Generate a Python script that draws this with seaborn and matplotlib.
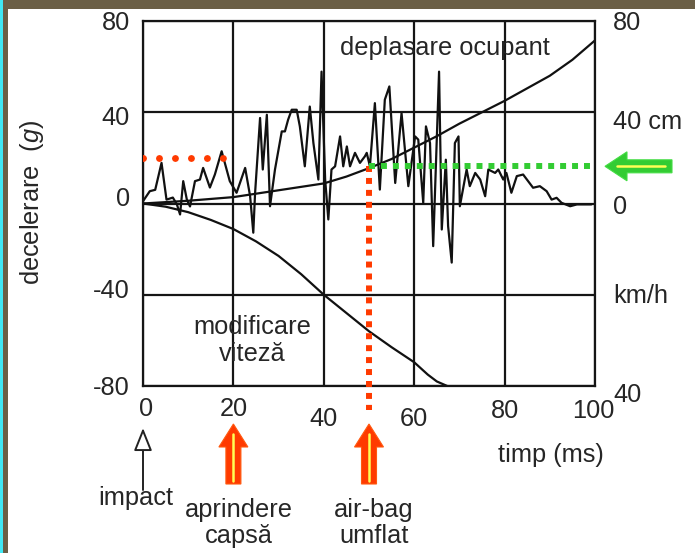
import numpy as np
import pandas as pd
import matplotlib
matplotlib.use("Agg")
import matplotlib.pyplot as plt
import seaborn as sns
from matplotlib.patches import Rectangle, FancyArrow
from matplotlib.transforms import IdentityTransform

# ---------------- data ----------------
# deceleration signal (g) vs time (ms)
t_sig = [0, 1.5, 2.7, 4.1, 5.2, 6.6, 7.5, 8.2, 8.9, 9.7, 10.4, 11.5, 12.6, 13.3, 14.8,
         15.9, 17.4, 19.2, 20.7, 22.6, 23.7, 24.4, 24.8, 25.9, 26.5, 27.4, 28.1, 29.2,
         30.7, 31.4, 32.1, 32.9, 34.0, 34.7, 35.8, 36.9, 37.7, 38.8, 39.5, 40.3, 41.0,
         41.7, 42.5, 43.6, 44.3, 45.1, 45.8, 46.9, 48.0, 49.1, 49.5, 50.2, 51.3, 52.4,
         53.5, 54.5, 55.8, 57.2, 58.7, 60.2, 60.9, 62.0, 62.6, 63.5, 64.2, 65.5, 66.1,
         67.0, 67.5, 68.3, 69.0, 69.8, 70.1, 71.6, 72.3, 73.5, 74.6, 75.7, 76.4, 77.9,
         78.6, 79.7, 80.4, 81.5, 82.7, 84.1, 85.2, 86.3, 87.8, 89.3, 90.4, 91.5, 92.6,
         94.5, 96.0, 99.2]
g_sig = [1, 5.4, 6, 17.8, 1.7, 2.6, -0.4, -4.8, 9.8, 1.7, -1.3, 9.8, 10.5, 15.6, 7,
         12.7, 22.9, 9.8, 4.7, 15.6, 3.2, -12.8, 4.7, 37.5, 14.9, 38.9, -1.2, 14.9,
         31.6, 31.6, 36.7, 41.1, 41.1, 33.8, 16.3, 42.5, 26.5, 10.5, 57.8, 10.5, -7,
         14.9, 16.3, 29.4, 16.3, 25, 16.3, 22.2, 17.8, 20.7, 22.2, 16.3, 44, 6.1,
         45.5, 51.3, 9, 39.6, 7.6, 29.4, 28, 0.3, 33.8, 26.5, -18.7, 57.8, -11.4,
         19.2, -9.9, -25.9, 26.5, 29.4, -1.2, 14.9, 7.6, 13.4, 10.5, 3.2, 14.9, 13.4,
         14.9, 10.5, 13.4, 4.7, 12, 12.7, 9.8, 6.9, 7.6, 5.4, 1.7, 2.5, 0.3,
         -1.2, -0.4, -0.4]

# occupant displacement (cm) -- right axis upper half
t_disp = [0, 10, 20, 30, 40, 45, 50, 55, 60, 65, 70, 75, 80, 85, 90, 95, 100]
disp_cm = [0, 1.2, 2.8, 5.8, 8.8, 11.8, 15.5, 19.5, 24.5, 29.5, 35, 40, 45, 50.5, 56, 63, 71.5]

# velocity change (km/h) -- right axis lower half (0 .. 40 km/h)
t_vel = [0, 5, 10, 15, 20, 25, 30, 35, 40, 45, 50, 55, 60, 63, 65, 67.3]
vel_kmh = [0, 0.7, 1.9, 3.6, 5.6, 8.3, 11.5, 15.5, 20, 24, 28, 31.5, 34.8, 37.5, 39, 40]

x_ticks = [0, 20, 40, 60, 80, 100]
x_labels = ["0", "20", "40", "60", "80", "100"]
y_ticks = [80, 40, 0, -40, -80]
y_labels = ["80", "40", "0", "-40", "-80"]
right_labels = ["80", "40 cm", "0", "km/h", "40"]

t_ignite = 20      # ms, aprindere capsa
t_airbag = 50      # ms, air-bag umflat
g_ignite_level = 20
g_airbag_level = 16.3

# ---------------- style ----------------
sns.set_theme(style="white")
plt.rcParams["font.family"] = ["Liberation Sans", "DejaVu Sans"]
plt.rcParams["mathtext.fontset"] = "custom"
plt.rcParams["mathtext.it"] = "Liberation Sans:italic"
plt.rcParams["mathtext.rm"] = "Liberation Sans"

TXT = "#262626"
RED = "#ff3a00"
GREEN = "#33cc33"
YELLOW = "#ffff55"
FS = 18.3
W, H = 695, 553

fig = plt.figure(figsize=(W / 100, H / 100), dpi=100)
fig.patch.set_facecolor("white")

# frame decoration
fig.patches.append(Rectangle((0, H - 8.5), W, 8.5, transform=IdentityTransform(),
                             facecolor="#6b5f46", edgecolor="none", zorder=0))
fig.patches.append(Rectangle((2.5, 0), 5, H, transform=IdentityTransform(),
                             facecolor="#6b5f46", edgecolor="none", zorder=0))
fig.patches.append(Rectangle((0, 0), 2.5, H, transform=IdentityTransform(),
                             facecolor="#40e8f4", edgecolor="none", zorder=0))

ax = fig.add_axes([143 / W, 1 - 386 / H, (595 - 143) / W, (386 - 21) / H])
ax.set_xlim(0, 100)
ax.set_ylim(-80, 80)
ax.set_facecolor("white")

ax.set_xticks(x_ticks)
ax.set_yticks(y_ticks)
ax.tick_params(labelbottom=False, labelleft=False, length=0)
ax.grid(True, color="#151515", lw=1.6)
for s in ax.spines.values():
    s.set_color("#151515")
    s.set_linewidth(1.6)

# curves
sns.lineplot(x=t_sig, y=g_sig, ax=ax, color="#111111", lw=1.6, estimator=None, sort=False)
sns.lineplot(x=t_disp, y=disp_cm, ax=ax, color="#111111", lw=1.6, estimator=None)
vel_plot = [-2 * v for v in vel_kmh]   # 40 km/h maps to -80 on the left scale
sns.lineplot(x=t_vel, y=vel_plot, ax=ax, color="#111111", lw=1.6, estimator=None)

# dotted markers
ax.plot([0, 18.0], [g_ignite_level, g_ignite_level], color=RED, lw=5.0,
        linestyle=(0, (0.001, 2.3)), dash_capstyle="round", zorder=5)
ax.plot([t_airbag, t_airbag], [g_airbag_level, -90.5], color=RED, lw=4.3,
        linestyle=(0, (1, 1)), dash_capstyle="butt", zorder=5, clip_on=False)
ax.plot([t_airbag, 100], [g_airbag_level, g_airbag_level], color=GREEN, lw=4.3,
        linestyle=(0, (1, 1)), dash_capstyle="butt", zorder=6, clip_on=False)

# text in plot
ax.text(66.8, 68.2, "deplasare ocupant", ha="center", va="center", fontsize=FS, color=TXT)
ax.text(24.1, -60, "modificare\nviteză", ha="center", va="center", fontsize=FS,
        color=TXT, linespacing=1.12)

# left tick labels (offsets in pixels, positive = up)
left_dy = [-2, -6, 4, 3.5, -2]
for yv, lab, dy in zip(y_ticks, y_labels, left_dy):
    ax.annotate(lab, xy=(0, yv), xycoords=("axes fraction", "data"),
                xytext=(-13, dy), textcoords="offset pixels",
                ha="right", va="center", fontsize=FS, color=TXT)

# right labels
right_dy = [-2, -10, -4, -1.5, -9]
for yv, lab, dy in zip(y_ticks, right_labels, right_dy):
    ax.annotate(lab, xy=(1, yv), xycoords=("axes fraction", "data"),
                xytext=(18, dy), textcoords="offset pixels",
                ha="left", va="center", fontsize=FS, color=TXT)

# bottom tick labels (staggered)
x_dx = [3, 0, 0, 0, 0, -2]
x_dy = [-23, -23, -33, -33, -25, -25]
for xv, lab, dx, dy in zip(x_ticks, x_labels, x_dx, x_dy):
    ax.annotate(lab, xy=(xv, 0), xycoords=("data", "axes fraction"),
                xytext=(dx, dy), textcoords="offset pixels",
                ha="center", va="center", fontsize=FS, color=TXT)

# y label
fig.text(32 / W, 1 - 202 / H, "decelerare  ($\\it{g}$)", rotation=90, ha="center",
         va="center", fontsize=FS, color=TXT)

# x axis label
fig.text(551 / W, 1 - 455 / H, "timp (ms)", ha="center", va="center", fontsize=FS, color=TXT)

# annotations below axis
def px_x(t):
    return ax.transData.transform((t, 0))[0]

ax.annotate("", xy=(0, H - 428), xycoords=("data", "figure pixels"),
            xytext=(0, H - 490), textcoords=("data", "figure pixels"),
            arrowprops=dict(arrowstyle="-|>,head_length=1.0,head_width=0.4",
                            mutation_scale=14, fc="white", ec="#222222", lw=1.4,
                            shrinkA=0, shrinkB=0),
            annotation_clip=False)
ax.annotate("impact", xy=(0, H - 498), xycoords=("data", "figure pixels"),
            xytext=(-7, 0), textcoords="offset pixels",
            ha="center", va="center", fontsize=FS, color=TXT, annotation_clip=False)

for tx, lab in [(t_ignite, "aprindere\ncapsă"), (t_airbag, "air-bag\numflat")]:
    xp = px_x(tx)
    fig.patches.append(FancyArrow(xp, H - 484, 0, 60, width=15, head_width=29,
                                  head_length=23, length_includes_head=True,
                                  transform=IdentityTransform(), facecolor=RED,
                                  edgecolor="#ff5a10", lw=0.8, zorder=3))
    fig.add_artist(plt.Line2D([xp, xp], [H - 481, H - 434], transform=IdentityTransform(),
                              color=YELLOW, lw=1.8, zorder=4))
    ax.annotate(lab, xy=(tx, H - 523), xycoords=("data", "figure pixels"),
                xytext=(5, 0), textcoords="offset pixels", ha="center", va="center",
                fontsize=FS, color=TXT, linespacing=1.12, annotation_clip=False)

# green arrow pointing at displacement level
gy = ax.transData.transform((0, g_airbag_level))[1]
fig.patches.append(FancyArrow(672, gy, -67, 0, width=13, head_width=29, head_length=22,
                              length_includes_head=True, transform=IdentityTransform(),
                              facecolor=GREEN, edgecolor="#44dd44", lw=0.8, zorder=3))
fig.add_artist(plt.Line2D([617, 665], [gy, gy], transform=IdentityTransform(),
                          color=YELLOW, lw=1.8, zorder=4))

fig.savefig("out.png", dpi=100)
